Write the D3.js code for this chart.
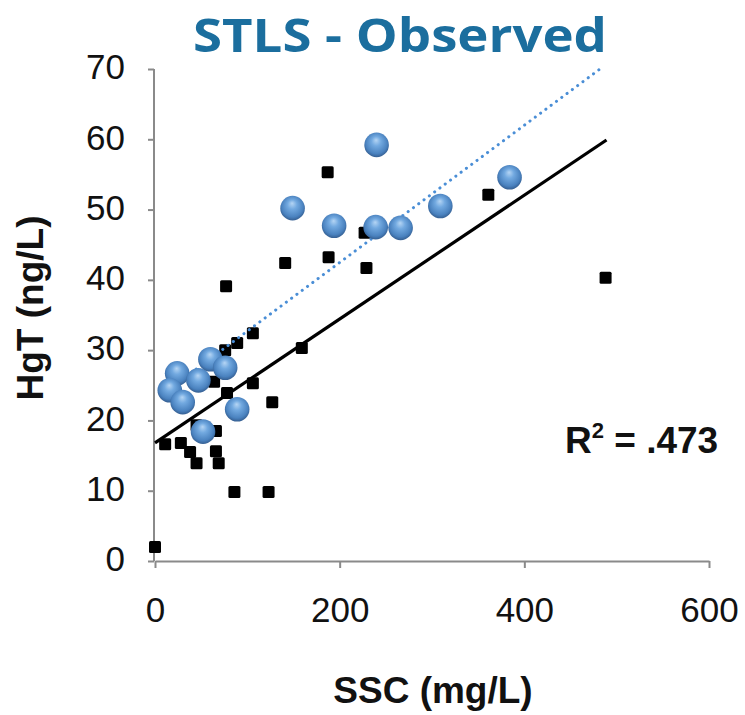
<!DOCTYPE html>
<html>
<head>
<meta charset="utf-8">
<script src="https://cdn.jsdelivr.net/npm/d3@7"></script>
<style>
  html, body { margin: 0; padding: 0; background: #fff; }
  svg { display: block; }
</style>
</head>
<body>
<script>
// Suspended sediment (SSC) vs total mercury (HgT), STLS observed samples
const sscOther = [0, 11, 28, 38, 45, 66, 69, 86, 123, 66, 45, 64, 78, 106, 127, 76, 89, 106, 159, 77, 141, 188, 187, 229, 227, 361, 488];
const hgtOther = [2.0, 16.6, 16.8, 15.5, 13.9, 15.6, 13.9, 9.8, 9.8, 18.5, 19.3, 25.5, 23.9, 25.3, 22.6, 30.0, 31.0, 32.4, 30.3, 39.1, 42.4, 43.2, 55.3, 41.7, 46.7, 52.1, 40.3];

const sscHighlight = [24, 16, 30, 47, 60, 76, 89, 52, 149, 194, 240, 239, 266, 309, 384];
const hgtHighlight = [26.7, 24.3, 22.6, 25.7, 28.7, 27.5, 21.6, 18.4, 50.2, 47.7, 59.2, 47.5, 47.4, 50.5, 54.6];

// Trendline end points: all samples (solid) and highlighted samples (dotted)
const trendAllX = [0, 489];
const trendAllY = [16.8, 59.9];
const trendHighlightX = [16, 485];
const trendHighlightY = [24.5, 70.3];

const xTicks = [0, 200, 400, 600];
const yTicks = [0, 10, 20, 30, 40, 50, 60, 70];

const titleText = "STLS - Observed";
const xTitle = "SSC (mg/L)";
const yTitle = "HgT (ng/L)";
const rSquaredText = ".473";

const W = 745, H = 715;
const svg = d3.select("body").append("svg").attr("width", W).attr("height", H);

const x = d3.scaleLinear().domain([0, 600]).range([155, 709]);
const y = d3.scaleLinear().domain([0, 70]).range([561, 69]);

// Sphere shading for the highlighted markers
const defs = svg.append("defs");
const grad = defs.append("radialGradient")
  .attr("id", "sphere").attr("cx", "50%").attr("cy", "45%").attr("r", "55%")
  .attr("fx", "48%").attr("fy", "30%");
grad.append("stop").attr("offset", "0%").attr("stop-color", "#b5d5f4");
grad.append("stop").attr("offset", "35%").attr("stop-color", "#72a9e0");
grad.append("stop").attr("offset", "80%").attr("stop-color", "#4a82bf");
grad.append("stop").attr("offset", "100%").attr("stop-color", "#355f92");

const soft = defs.append("filter").attr("id", "soft").attr("x", "-20%").attr("y", "-20%").attr("width", "140%").attr("height", "140%");
soft.append("feGaussianBlur").attr("stdDeviation", 0.5);

// Title
svg.append("text")
  .attr("x", 400).attr("y", 52)
  .attr("text-anchor", "middle")
  .attr("font-family", "'Open Sans', sans-serif")
  .attr("font-weight", 700)
  .attr("font-size", 47)
  .attr("fill", "#1b6e9e")
  .attr("textLength", 414)
  .attr("lengthAdjust", "spacingAndGlyphs")
  .text(titleText);

// Axes
const axisColor = "#8a8a8a";
const yAxis = svg.append("g")
  .attr("transform", `translate(${x(0) - 1},0)`)
  .call(d3.axisLeft(y).tickValues(yTicks).tickFormat(d3.format("d")).tickSize(6).tickSizeOuter(0).tickPadding(23));
const xAxis = svg.append("g")
  .attr("transform", `translate(0,${y(0)})`)
  .call(d3.axisBottom(x).tickValues(xTicks).tickFormat(d3.format("d")).tickSize(7).tickSizeOuter(0).tickPadding(29));

[yAxis, xAxis].forEach(g => {
  g.select(".domain").attr("stroke", axisColor).attr("stroke-width", 2);
  g.selectAll(".tick line").attr("stroke", axisColor).attr("stroke-width", 2);
  g.selectAll(".tick text")
    .attr("font-family", "'Liberation Sans', Arial, sans-serif")
    .attr("font-size", 35)
    .attr("fill", "#111");
});
yAxis.select(".domain").attr("d", `M0,${y(0)}V${y(70)}`);
yAxis.selectAll(".tick text").attr("dy", "0.28em");

// Axis titles
svg.append("text")
  .attr("x", 433).attr("y", 703)
  .attr("text-anchor", "middle")
  .attr("font-family", "'Liberation Sans', Arial, sans-serif")
  .attr("font-weight", 700).attr("font-size", 37).attr("fill", "#111")
  .text(xTitle);

svg.append("text")
  .attr("transform", `translate(43,308) rotate(-90)`)
  .attr("text-anchor", "middle")
  .attr("font-family", "'Liberation Sans', Arial, sans-serif")
  .attr("font-weight", 700).attr("font-size", 37).attr("fill", "#111")
  .text(yTitle);

// Square markers
const sq = 12;
svg.append("g").attr("filter", "url(#soft)")
  .selectAll("rect").data(d3.range(sscOther.length)).join("rect")
  .attr("x", i => x(sscOther[i]) - sq / 2)
  .attr("y", i => y(hgtOther[i]) - sq / 2)
  .attr("width", sq).attr("height", sq).attr("rx", 1.5)
  .attr("fill", "#000");

// Trendlines
const line = d3.line().x(d => x(d[0])).y(d => y(d[1]));
svg.append("path")
  .attr("d", line(d3.zip(trendAllX, trendAllY)))
  .attr("fill", "none").attr("stroke", "#000").attr("stroke-width", 3.2);

svg.append("path")
  .attr("d", line(d3.zip(trendHighlightX, trendHighlightY)))
  .attr("fill", "none").attr("stroke", "#4a8ed6").attr("stroke-width", 3)
  .attr("stroke-linecap", "round").attr("stroke-dasharray", "0.1 6.5");

// Sphere markers
svg.append("g")
  .selectAll("circle").data(d3.range(sscHighlight.length)).join("circle")
  .attr("cx", i => x(sscHighlight[i]))
  .attr("cy", i => y(hgtHighlight[i]))
  .attr("r", 12.3)
  .attr("fill", "url(#sphere)");

// Coefficient of determination
const r2 = svg.append("text")
  .attr("x", 565).attr("y", 453)
  .attr("font-family", "'Liberation Sans', Arial, sans-serif")
  .attr("font-weight", 700).attr("font-size", 37).attr("fill", "#111");
r2.append("tspan").text("R");
r2.append("tspan").attr("font-size", 22).attr("dy", -15).text("2");
r2.append("tspan").attr("dy", 15).text(" = " + rSquaredText);
</script>
</body>
</html>
